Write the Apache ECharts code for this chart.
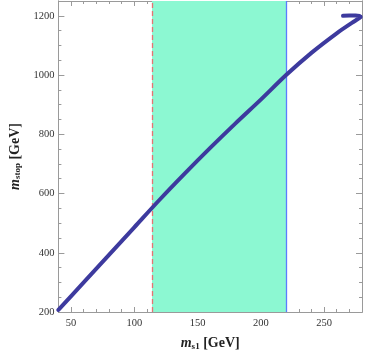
<!DOCTYPE html>
<html>
<head>
<meta charset="utf-8">
<script src="https://cdn.jsdelivr.net/npm/echarts@6/dist/echarts.min.js"></script>
<style>html,body{margin:0;padding:0;background:#fff}#c{width:366px;height:356px}</style>
</head>
<body>
<div id="c"></div>
<script>
const mS1 = [40, 60, 80, 100, 120, 140, 160, 180, 200, 220, 240, 260, 272, 277, 279, 278, 275, 270, 265];
const mStop = [207, 300, 393, 486, 579, 668, 754, 837, 917, 1000, 1075, 1141, 1176, 1190, 1196, 1200, 1201, 1201, 1200];
const xTicks = [50, 100, 150, 200, 250];
const yTicks = [200, 400, 600, 800, 1000, 1200];
const bandRange = [114, 220];
const xRange = [40, 280];
const yRange = [200, 1250];

const frame = '#9a9a9a';
const font = 'Liberation Serif';
const labelStyle = {color: '#333', fontFamily: font, fontSize: 10.5, formatter: v => String(v)};

function xAx(pos, major, showLabel) {
  const a = {
    type: 'value', position: pos, min: xRange[0], max: xRange[1],
    axisLine: {show: true, onZero: false, lineStyle: {color: frame, width: 1}},
    splitLine: {show: false},
    axisTick: {show: true, inside: true, length: major ? 5 : 3, lineStyle: {color: frame}},
    axisLabel: {show: false}
  };
  if (major) {
    a.axisTick.customValues = xTicks;
    a.axisLabel = {show: showLabel, customValues: xTicks, margin: 6, ...labelStyle};
  } else {
    a.interval = 10;
  }
  return a;
}
function yAx(pos, major, showLabel) {
  const a = {
    type: 'value', position: pos, min: yRange[0], max: yRange[1],
    axisLine: {show: true, onZero: false, lineStyle: {color: frame, width: 1}},
    splitLine: {show: false},
    axisTick: {show: true, inside: true, length: major ? 6 : 3, lineStyle: {color: frame}},
    axisLabel: {show: false}
  };
  if (major) {
    a.axisTick.customValues = yTicks;
    a.axisLabel = {show: showLabel, customValues: yTicks, margin: 4, ...labelStyle};
  } else {
    a.interval = 50;
  }
  return a;
}

const titleStyle = {
  rich: {
    i: {fontFamily: font, fontStyle: 'italic', fontWeight: 'bold', fontSize: 14, color: '#222'},
    s: {fontFamily: font, fontWeight: 'bold', fontSize: 9, color: '#222', padding: [6, 0, 0, 0]},
    b: {fontFamily: font, fontWeight: 'bold', fontSize: 14, color: '#222'}
  }
};
const xs = [xAx('bottom', true, true), xAx('bottom', false), xAx('top', true, false), xAx('top', false)];
xs[0].name = '{i|m}{s|s1}{b| [GeV]}';
xs[0].nameLocation = 'middle';
xs[0].nameGap = 24;
xs[0].nameTextStyle = titleStyle;
const ys = [yAx('left', true, true), yAx('left', false), yAx('right', true, false), yAx('right', false)];
ys[0].name = '{i|m}{s|stop}{b| [GeV]}';
ys[0].nameLocation = 'middle';
ys[0].nameGap = 31;
ys[0].nameTextStyle = titleStyle;

const chart = echarts.init(document.getElementById('c'), null, {renderer: 'canvas'});
chart.setOption({
  animation: false,
  grid: {left: 54, right: 4, top: 1, bottom: 44, containLabel: false},
  xAxis: xs,
  yAxis: ys,
  series: [{
    type: 'line',
    xAxisIndex: 0, yAxisIndex: 0,
    data: mS1.map((x, i) => [x, mStop[i]]),
    smooth: 0.3,
    symbol: 'none',
    clip: true,
    lineStyle: {color: '#3d3a9e', width: 4, cap: 'round', join: 'round'},
    z: 5,
    markArea: {
      silent: true,
      itemStyle: {color: '#8cf8d2', opacity: 1},
      data: [[{xAxis: bandRange[0]}, {xAxis: bandRange[1]}]]
    },
    markLine: {
      silent: true,
      symbol: 'none',
      label: {show: false},
      data: [
        {xAxis: bandRange[0], lineStyle: {color: '#e57373', type: [5, 3], width: 1.3}},
        {xAxis: bandRange[1], lineStyle: {color: '#5b7cff', type: 'solid', width: 1.3}}
      ]
    }
  }]
});
</script>
</body>
</html>
